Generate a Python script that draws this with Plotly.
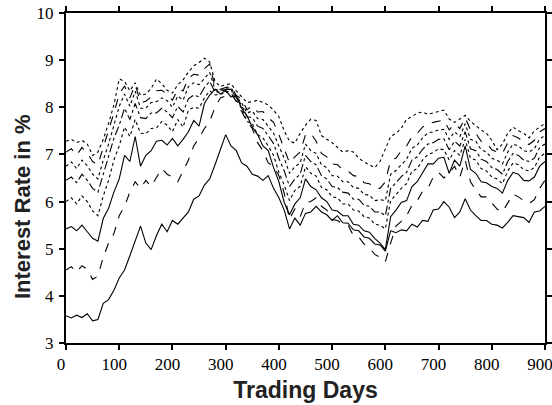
import plotly.graph_objects as go

days = list(range(0, 901, 10))

s1 = [3.58, 3.53, 3.59, 3.54, 3.62, 3.47, 3.50, 3.84, 3.92, 4.12,
      4.38, 4.55, 4.85, 5.15, 5.48, 5.12, 4.98, 5.28, 5.52, 5.36,
      5.60, 5.52, 5.64, 5.78, 6.05, 6.12, 6.35, 6.48, 6.78, 7.12,
      7.42, 7.18, 7.08, 6.82, 6.75, 6.58, 6.54, 6.45, 6.55, 6.28,
      6.08, 5.82, 5.42, 5.65, 5.50, 5.75, 5.78, 5.90, 5.78, 5.72,
      5.60, 5.70, 5.55, 5.54, 5.40, 5.38, 5.25, 5.22, 5.10, 5.08,
      4.95, 5.38, 5.34, 5.40, 5.38, 5.52, 5.46, 5.60, 5.58, 5.82,
      5.84, 6.00, 5.88, 5.66, 5.78, 6.06, 5.82, 5.70, 5.60, 5.60,
      5.52, 5.50, 5.44, 5.56, 5.70, 5.68, 5.66, 5.56, 5.78, 5.80,
      5.90]

s2 = [4.55, 4.62, 4.50, 4.64, 4.56, 4.35, 4.42, 4.82, 5.12, 5.32,
      5.70, 5.90, 6.20, 6.42, 6.28, 6.45, 6.32, 6.52, 6.70, 6.58,
      6.52, 6.42, 6.65, 6.88, 7.18, 7.35, 7.55, 7.70, 8.00, 8.20,
      8.24, 8.30, 8.12, 7.92, 7.70, 7.55, 7.25, 7.08, 6.82, 6.75,
      6.55, 6.18, 5.62, 5.85, 5.68, 5.98, 6.00, 6.08, 5.90, 5.82,
      5.62, 5.60, 5.52, 5.50, 5.28, 5.25, 5.10, 5.02, 4.88, 4.82,
      4.72, 5.12, 5.48, 5.58, 5.70, 5.92, 6.02, 6.22, 6.28, 6.52,
      6.62, 6.50, 6.60, 6.75, 6.52, 6.88, 6.42, 6.25, 6.10, 6.10,
      5.98, 5.84, 5.78, 5.98, 6.16, 6.10, 6.02, 5.96, 6.04, 6.28,
      6.45]

s3 = [5.42, 5.47, 5.38, 5.50, 5.36, 5.22, 5.16, 5.64, 5.86, 6.20,
      6.48, 6.98, 6.85, 7.38, 6.75, 6.98, 7.08, 7.28, 7.30, 7.20,
      7.34, 7.18, 7.32, 7.48, 7.72, 7.60, 8.08, 8.26, 8.38, 8.28,
      8.36, 8.22, 8.24, 7.98, 7.82, 7.58, 7.42, 7.18, 7.08, 6.72,
      6.42, 5.98, 5.72, 5.95, 6.08, 6.48, 6.32, 6.25, 6.08, 6.00,
      5.82, 5.80, 5.70, 5.70, 5.52, 5.50, 5.38, 5.35, 5.22, 5.12,
      4.98, 5.68, 5.82, 5.98, 6.02, 6.32, 6.42, 6.62, 6.80, 6.80,
      6.92, 6.94, 6.60, 6.88, 6.75, 7.18, 6.68, 6.60, 6.42, 6.40,
      6.32, 6.28, 6.18, 6.45, 6.62, 6.58, 6.45, 6.44, 6.52, 6.75,
      6.85]

s4 = [6.00, 6.08, 5.95, 6.12, 6.00, 5.80, 5.70, 6.12, 6.45, 6.88,
      7.18, 7.58, 7.38, 7.74, 7.45, 7.44, 7.55, 7.56, 7.70, 7.62,
      7.48, 7.74, 7.58, 7.94, 8.00, 7.98, 8.20, 8.35, 8.26, 8.28,
      8.30, 8.38, 8.15, 7.98, 7.70, 7.65, 7.42, 7.35, 7.18, 6.98,
      6.62, 6.35, 6.02, 6.24, 6.32, 6.74, 6.60, 6.54, 6.30, 6.25,
      6.10, 6.08, 5.95, 5.95, 5.82, 5.80, 5.68, 5.65, 5.52, 5.50,
      5.42, 6.02, 6.15, 6.28, 6.38, 6.64, 6.70, 6.88, 7.00, 7.04,
      7.12, 7.10, 6.88, 7.08, 6.98, 7.32, 6.92, 6.88, 6.70, 6.65,
      6.52, 6.48, 6.38, 6.65, 6.82, 6.78, 6.68, 6.65, 6.72, 6.95,
      7.02]

s5 = [6.45, 6.52, 6.40, 6.58, 6.45, 6.28, 6.20, 6.58, 6.92, 7.34,
      7.62, 7.98, 7.74, 8.08, 7.78, 7.76, 7.88, 7.88, 7.98, 7.90,
      7.78, 8.02, 7.90, 8.18, 8.26, 8.22, 8.42, 8.55, 8.32, 8.33,
      8.38, 8.38, 8.20, 8.05, 7.80, 7.78, 7.60, 7.55, 7.40, 7.23,
      6.92, 6.65, 6.32, 6.48, 6.58, 6.98, 6.85, 6.78, 6.55, 6.48,
      6.32, 6.30, 6.20, 6.18, 6.05, 6.05, 5.92, 5.90, 5.78, 5.78,
      5.70, 6.28, 6.40, 6.53, 6.62, 6.88, 6.95, 7.11, 7.22, 7.25,
      7.32, 7.33, 7.10, 7.28, 7.18, 7.48, 7.12, 7.08, 6.90, 6.85,
      6.72, 6.68, 6.58, 6.85, 7.02, 6.98, 6.88, 6.85, 6.92, 7.15,
      7.22]

s6 = [6.75, 6.84, 6.70, 6.88, 6.76, 6.58, 6.48, 6.88, 7.22, 7.64,
      8.02, 8.28, 8.02, 8.34, 7.98, 7.98, 8.10, 8.12, 8.20, 8.14,
      8.00, 8.24, 8.15, 8.44, 8.52, 8.48, 8.62, 8.74, 8.38, 8.35,
      8.40, 8.42, 8.22, 8.10, 7.88, 7.92, 7.76, 7.74, 7.60, 7.45,
      7.18, 6.92, 6.60, 6.74, 6.82, 7.22, 7.08, 7.02, 6.78, 6.72,
      6.55, 6.54, 6.42, 6.42, 6.30, 6.28, 6.15, 6.14, 6.02, 6.04,
      6.02, 6.58, 6.66, 6.78, 6.90, 7.13, 7.20, 7.35, 7.46, 7.48,
      7.52, 7.53, 7.32, 7.48, 7.38, 7.65, 7.32, 7.28, 7.10, 7.05,
      6.92, 6.88, 6.80, 7.05, 7.22, 7.18, 7.08, 7.05, 7.12, 7.33,
      7.40]

s7 = [7.05, 7.12, 6.98, 7.15, 7.03, 6.85, 6.78, 7.15, 7.48, 7.88,
      8.28, 8.45, 8.20, 8.48, 8.10, 8.13, 8.22, 8.35, 8.36, 8.28,
      8.15, 8.38, 8.35, 8.62, 8.70, 8.68, 8.82, 8.92, 8.42, 8.38,
      8.42, 8.45, 8.25, 8.18, 7.95, 8.03, 7.90, 7.91, 7.78, 7.68,
      7.42, 7.13, 6.82, 6.95, 7.05, 7.42, 7.45, 7.28, 7.02, 6.95,
      6.80, 6.78, 6.68, 6.65, 6.55, 6.53, 6.40, 6.38, 6.28, 6.28,
      6.42, 6.88, 6.92, 7.08, 7.18, 7.38, 7.45, 7.58, 7.66, 7.68,
      7.70, 7.73, 7.52, 7.65, 7.55, 7.78, 7.52, 7.45, 7.28, 7.25,
      7.10, 7.05, 7.02, 7.25, 7.40, 7.35, 7.26, 7.21, 7.30, 7.48,
      7.55]

s8 = [7.28, 7.32, 7.25, 7.30, 7.22, 6.98, 7.05, 7.32, 7.66, 8.05,
      8.60, 8.55, 8.35, 8.52, 8.25, 8.28, 8.40, 8.60, 8.50, 8.36,
      8.30, 8.48, 8.58, 8.75, 8.88, 8.95, 9.04, 8.96, 8.55, 8.44,
      8.48, 8.50, 8.35, 8.22, 8.10, 8.12, 8.15, 8.10, 8.05, 7.94,
      7.80, 7.50, 7.28, 7.24, 7.45, 7.62, 7.75, 7.72, 7.40, 7.32,
      7.25, 7.15, 7.05, 7.08, 7.05, 6.92, 6.84, 6.78, 6.72, 6.85,
      7.10, 7.38, 7.45, 7.55, 7.75, 7.80, 7.88, 7.90, 7.85, 7.88,
      7.90, 7.94, 7.75, 7.68, 7.75, 7.83, 7.70, 7.60, 7.52, 7.45,
      7.30, 7.10, 7.22, 7.45, 7.58, 7.50, 7.45, 7.35, 7.50, 7.58,
      7.66]

series = [s1, s2, s3, s4, s5, s6, s7, s8]
dashes = ["solid", "dash", "solid", "dot", "dashdot", "dot", "dash", "dot"]

fig = go.Figure()
for vals, d in zip(series, dashes):
    fig.add_trace(go.Scatter(x=days, y=vals, mode="lines",
                             line=dict(color="black", width=1.1, dash=d),
                             showlegend=False, hoverinfo="skip"))

axis_common = dict(
    showline=True, linecolor="black", linewidth=2, mirror="ticks",
    ticks="outside", ticklen=5, tickwidth=2, tickcolor="black",
    showgrid=False, zeroline=False, automargin=False,
    ticklabeloverflow="allow",
    tickfont=dict(family="Liberation Serif", size=17, color="black"),
)

fig.update_layout(
    width=552, height=405,
    margin=dict(l=66, r=7, t=13, b=62),
    paper_bgcolor="white", plot_bgcolor="white",
    xaxis=dict(range=[0, 900], dtick=100, tick0=0, ticklabelshift=-5,
               title=dict(text="Trading Days", standoff=8,
                          font=dict(family="Liberation Sans", size=23, color="#222", weight="bold")),
               **axis_common),
    yaxis=dict(range=[3, 10], dtick=1, tick0=3, ticklabelstandoff=2,
               **axis_common),
    annotations=[dict(text="Interest Rate in %", textangle=-90,
                      xref="paper", yref="paper", x=-0.0919, y=0.415,
                      xanchor="center", yanchor="middle", showarrow=False,
                      font=dict(family="Liberation Sans", size=22, color="#222", weight="bold"))],
)

fig.write_html("out.html", config={"displayModeBar": False},
               post_script="document.body.style.margin='0px';")
